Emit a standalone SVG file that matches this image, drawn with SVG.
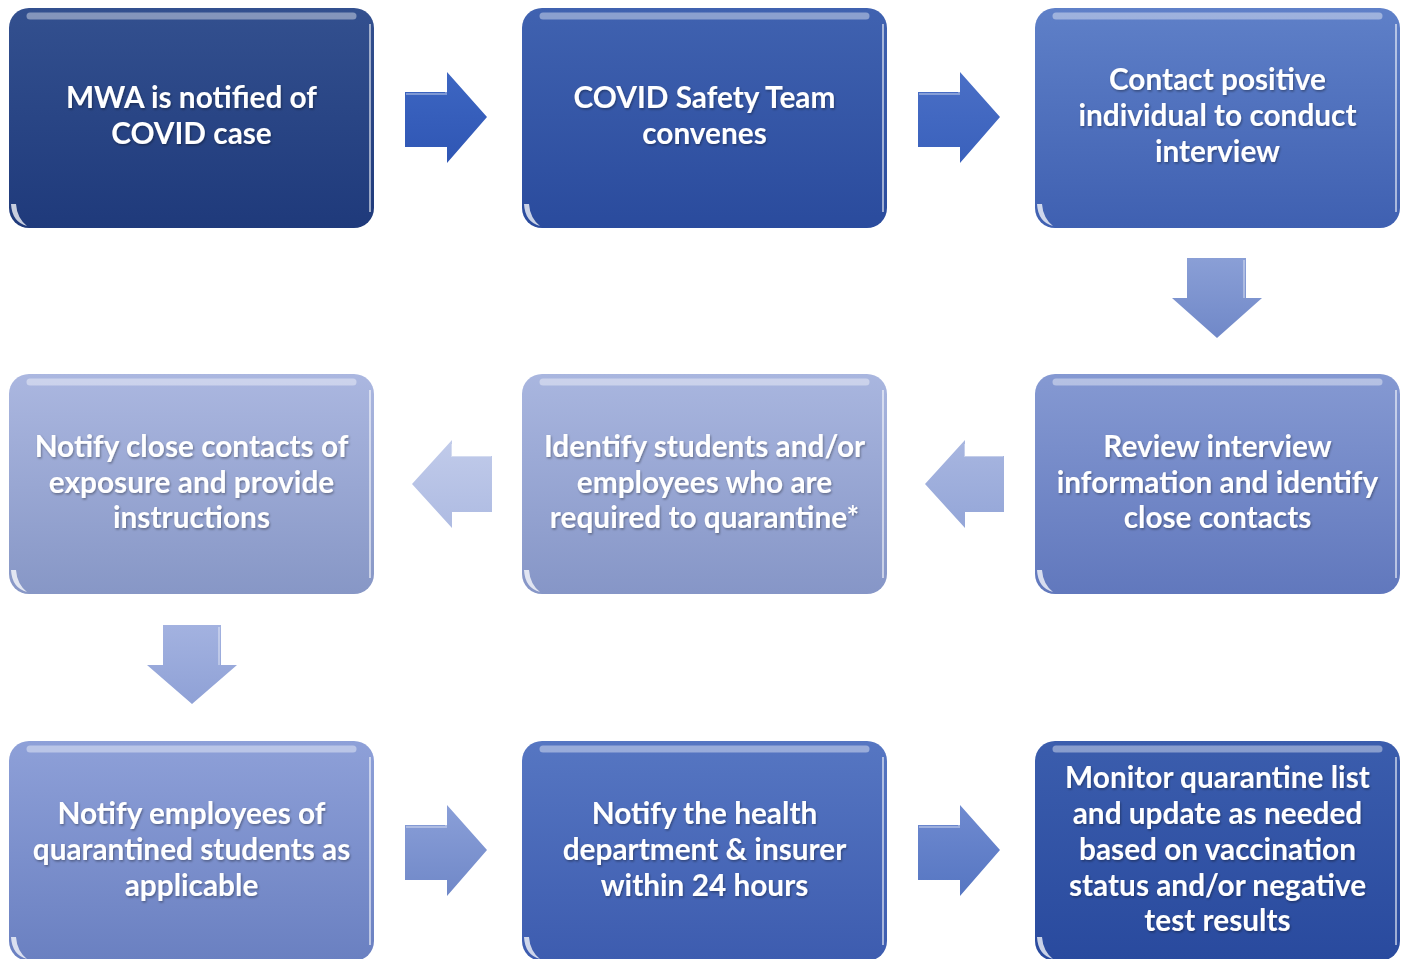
<svg xmlns="http://www.w3.org/2000/svg" width="1406" height="959" viewBox="0 0 1406 959">
  <style>
    .lbl { font-family: Lato, "Open Sans", "Liberation Sans", sans-serif; font-size: 29.8px; font-weight: 700; fill: #ffffff; text-anchor: middle; }
    .gloss { fill: none; stroke: #ffffff; stroke-opacity: 0.4; stroke-width: 7; stroke-linecap: round; }
    .edge { fill: none; stroke: #ffffff; stroke-opacity: 0.55; stroke-width: 2; }
    .corner { fill: #ffffff; fill-opacity: 0.75; }
    .bevel { fill: none; stroke: #ffffff; stroke-opacity: 0.35; stroke-width: 2; }
  </style>
  <defs>
    <filter id="txtShadow" x="-10%" y="-10%" width="120%" height="130%">
      <feDropShadow dx="1" dy="1.5" stdDeviation="1" flood-color="#000000" flood-opacity="0.35"/>
    </filter>
    <linearGradient id="g1" x1="0" y1="0" x2="0" y2="1"><stop offset="0" stop-color="#33508f"/><stop offset="1" stop-color="#1f3a7b"/></linearGradient>
    <linearGradient id="g2" x1="0" y1="0" x2="0" y2="1"><stop offset="0" stop-color="#4062b0"/><stop offset="1" stop-color="#2a4b9d"/></linearGradient>
    <linearGradient id="g3" x1="0" y1="0" x2="0" y2="1"><stop offset="0" stop-color="#5f80c8"/><stop offset="1" stop-color="#3f60b1"/></linearGradient>
    <linearGradient id="g4" x1="0" y1="0" x2="0" y2="1"><stop offset="0" stop-color="#8599d2"/><stop offset="1" stop-color="#6178bd"/></linearGradient>
    <linearGradient id="g5" x1="0" y1="0" x2="0" y2="1"><stop offset="0" stop-color="#a9b6df"/><stop offset="1" stop-color="#8696c7"/></linearGradient>
    <linearGradient id="g6" x1="0" y1="0" x2="0" y2="1"><stop offset="0" stop-color="#abb7e0"/><stop offset="1" stop-color="#8797c6"/></linearGradient>
    <linearGradient id="g7" x1="0" y1="0" x2="0" y2="1"><stop offset="0" stop-color="#8ea0d8"/><stop offset="1" stop-color="#6a80c1"/></linearGradient>
    <linearGradient id="g8" x1="0" y1="0" x2="0" y2="1"><stop offset="0" stop-color="#5676c2"/><stop offset="1" stop-color="#3d5caf"/></linearGradient>
    <linearGradient id="g9" x1="0" y1="0" x2="0" y2="1"><stop offset="0" stop-color="#3b5dad"/><stop offset="1" stop-color="#294a9e"/></linearGradient>
    <linearGradient id="a1" x1="0" y1="0" x2="0" y2="1"><stop offset="0" stop-color="#3d66c2"/><stop offset="1" stop-color="#2f56b4"/></linearGradient>
    <linearGradient id="a2" x1="0" y1="0" x2="0" y2="1"><stop offset="0" stop-color="#4a6fc6"/><stop offset="1" stop-color="#3a61bc"/></linearGradient>
    <linearGradient id="a3" x1="0" y1="0" x2="0" y2="1"><stop offset="0" stop-color="#8a9fd6"/><stop offset="1" stop-color="#7088c8"/></linearGradient>
    <linearGradient id="a4" x1="0" y1="0" x2="0" y2="1"><stop offset="0" stop-color="#a8b6e0"/><stop offset="1" stop-color="#94a6d8"/></linearGradient>
    <linearGradient id="a5" x1="0" y1="0" x2="0" y2="1"><stop offset="0" stop-color="#c1cbea"/><stop offset="1" stop-color="#aebbe2"/></linearGradient>
    <linearGradient id="a6" x1="0" y1="0" x2="0" y2="1"><stop offset="0" stop-color="#a3b2e0"/><stop offset="1" stop-color="#8fa1d6"/></linearGradient>
    <linearGradient id="a7" x1="0" y1="0" x2="0" y2="1"><stop offset="0" stop-color="#8a9fd8"/><stop offset="1" stop-color="#7088c8"/></linearGradient>
    <linearGradient id="a8" x1="0" y1="0" x2="0" y2="1"><stop offset="0" stop-color="#6f8ad0"/><stop offset="1" stop-color="#5676c2"/></linearGradient>
  </defs>

  <!-- connectors: block arrows between steps -->
  <g id="connectors">
    <g id="arrow-1-2">
      <polygon points="405,92 447,92 447,72 487,117 447,163 447,147 405,147" fill="url(#a1)"/>
      <polyline class="bevel" points="406,94 446,94 446,76"/>
    </g>
    <g id="arrow-2-3">
      <polygon points="918,92 960,92 960,72 1000,117 960,163 960,147 918,147" fill="url(#a2)"/>
      <polyline class="bevel" points="919,94 959,94 959,76"/>
    </g>
    <g id="arrow-3-4">
      <polygon points="1187,258 1246,258 1246,298 1262,298 1217,338 1172,298 1187,298" fill="url(#a3)"/>
      <polyline class="bevel" points="1244,260 1244,298"/>
    </g>
    <g id="arrow-4-5">
      <polygon points="1004,456 965,456 965,440 925,484 965,528 965,512 1004,512" fill="url(#a4)"/>
      <polyline class="bevel" points="965,444 965,456 1003,456"/>
    </g>
    <g id="arrow-5-6">
      <polygon points="492,456 452,456 452,440 412,484 452,528 452,512 492,512" fill="url(#a5)"/>
      <polyline class="bevel" points="452,444 452,456 491,456"/>
    </g>
    <g id="arrow-6-7">
      <polygon points="163,625 221,625 221,665 237,665 192,704 147,665 163,665" fill="url(#a6)"/>
      <polyline class="bevel" points="219,627 219,665"/>
    </g>
    <g id="arrow-7-8">
      <polygon points="405,825 447,825 447,805 487,850 447,896 447,880 405,880" fill="url(#a7)"/>
      <polyline class="bevel" points="406,827 446,827 446,809"/>
    </g>
    <g id="arrow-8-9">
      <polygon points="918,825 960,825 960,805 1000,850 960,896 960,880 918,880" fill="url(#a8)"/>
      <polyline class="bevel" points="919,827 959,827 959,809"/>
    </g>
  </g>

  <!-- step 1 -->
  <g id="step-1">
    <rect x="9" y="8" width="365" height="220" rx="20" fill="url(#g1)"/>
    <line class="gloss" x1="30" y1="16" x2="353" y2="16"/>
    <path class="edge" d="M370 24 V212"/>
    <path class="corner" d="M11 204 Q12 222 27 226 Q17 218 16 204 Z"/>
    <text class="lbl" filter="url(#txtShadow)" x="191.5" y="108">MWA is notified of</text>
    <text class="lbl" filter="url(#txtShadow)" x="191.5" y="144">COVID case</text>
  </g>

  <!-- step 2 -->
  <g id="step-2">
    <rect x="522" y="8" width="365" height="220" rx="20" fill="url(#g2)"/>
    <line class="gloss" x1="543" y1="16" x2="866" y2="16"/>
    <path class="edge" d="M883 24 V212"/>
    <path class="corner" d="M524 204 Q525 222 540 226 Q530 218 529 204 Z"/>
    <text class="lbl" filter="url(#txtShadow)" x="704.5" y="108">COVID Safety Team</text>
    <text class="lbl" filter="url(#txtShadow)" x="704.5" y="144">convenes</text>
  </g>

  <!-- step 3 -->
  <g id="step-3">
    <rect x="1035" y="8" width="365" height="220" rx="20" fill="url(#g3)"/>
    <line class="gloss" x1="1056" y1="16" x2="1379" y2="16"/>
    <path class="edge" d="M1396 24 V212"/>
    <path class="corner" d="M1037 204 Q1038 222 1053 226 Q1043 218 1042 204 Z"/>
    <text class="lbl" filter="url(#txtShadow)" x="1217.5" y="90">Contact positive</text>
    <text class="lbl" filter="url(#txtShadow)" x="1217.5" y="126">individual to conduct</text>
    <text class="lbl" filter="url(#txtShadow)" x="1217.5" y="162">interview</text>
  </g>

  <!-- step 4 -->
  <g id="step-4">
    <rect x="1035" y="374" width="365" height="220" rx="20" fill="url(#g4)"/>
    <line class="gloss" x1="1056" y1="382" x2="1379" y2="382"/>
    <path class="edge" d="M1396 390 V578"/>
    <path class="corner" d="M1037 570 Q1038 588 1053 592 Q1043 584 1042 570 Z"/>
    <text class="lbl" filter="url(#txtShadow)" x="1217.5" y="457">Review interview</text>
    <text class="lbl" filter="url(#txtShadow)" x="1217.5" y="493">information and identify</text>
    <text class="lbl" filter="url(#txtShadow)" x="1217.5" y="528">close contacts</text>
  </g>

  <!-- step 5 -->
  <g id="step-5">
    <rect x="522" y="374" width="365" height="220" rx="20" fill="url(#g5)"/>
    <line class="gloss" x1="543" y1="382" x2="866" y2="382"/>
    <path class="edge" d="M883 390 V578"/>
    <path class="corner" d="M524 570 Q525 588 540 592 Q530 584 529 570 Z"/>
    <text class="lbl" filter="url(#txtShadow)" x="704.5" y="457">Identify students and/or</text>
    <text class="lbl" filter="url(#txtShadow)" x="704.5" y="493">employees who are</text>
    <text class="lbl" filter="url(#txtShadow)" x="704.5" y="528">required to quarantine*</text>
  </g>

  <!-- step 6 -->
  <g id="step-6">
    <rect x="9" y="374" width="365" height="220" rx="20" fill="url(#g6)"/>
    <line class="gloss" x1="30" y1="382" x2="353" y2="382"/>
    <path class="edge" d="M370 390 V578"/>
    <path class="corner" d="M11 570 Q12 588 27 592 Q17 584 16 570 Z"/>
    <text class="lbl" filter="url(#txtShadow)" x="191.5" y="457">Notify close contacts of</text>
    <text class="lbl" filter="url(#txtShadow)" x="191.5" y="493">exposure and provide</text>
    <text class="lbl" filter="url(#txtShadow)" x="191.5" y="528">instructions</text>
  </g>

  <!-- step 7 -->
  <g id="step-7">
    <rect x="9" y="741" width="365" height="220" rx="20" fill="url(#g7)"/>
    <line class="gloss" x1="30" y1="749" x2="353" y2="749"/>
    <path class="edge" d="M370 757 V945"/>
    <path class="corner" d="M11 937 Q12 955 27 959 Q17 951 16 937 Z"/>
    <text class="lbl" filter="url(#txtShadow)" x="191.5" y="824">Notify employees of</text>
    <text class="lbl" filter="url(#txtShadow)" x="191.5" y="860">quarantined students as</text>
    <text class="lbl" filter="url(#txtShadow)" x="191.5" y="896">applicable</text>
  </g>

  <!-- step 8 -->
  <g id="step-8">
    <rect x="522" y="741" width="365" height="220" rx="20" fill="url(#g8)"/>
    <line class="gloss" x1="543" y1="749" x2="866" y2="749"/>
    <path class="edge" d="M883 757 V945"/>
    <path class="corner" d="M524 937 Q525 955 540 959 Q530 951 529 937 Z"/>
    <text class="lbl" filter="url(#txtShadow)" x="704.5" y="824">Notify the health</text>
    <text class="lbl" filter="url(#txtShadow)" x="704.5" y="860">department &amp; insurer</text>
    <text class="lbl" filter="url(#txtShadow)" x="704.5" y="896">within 24 hours</text>
  </g>

  <!-- step 9 -->
  <g id="step-9">
    <rect x="1035" y="741" width="365" height="220" rx="20" fill="url(#g9)"/>
    <line class="gloss" x1="1056" y1="749" x2="1379" y2="749"/>
    <path class="edge" d="M1396 757 V945"/>
    <path class="corner" d="M1037 937 Q1038 955 1053 959 Q1043 951 1042 937 Z"/>
    <text class="lbl" filter="url(#txtShadow)" x="1217.5" y="788">Monitor quarantine list</text>
    <text class="lbl" filter="url(#txtShadow)" x="1217.5" y="824">and update as needed</text>
    <text class="lbl" filter="url(#txtShadow)" x="1217.5" y="860">based on vaccination</text>
    <text class="lbl" filter="url(#txtShadow)" x="1217.5" y="896">status and/or negative</text>
    <text class="lbl" filter="url(#txtShadow)" x="1217.5" y="931">test results</text>
  </g>
</svg>
